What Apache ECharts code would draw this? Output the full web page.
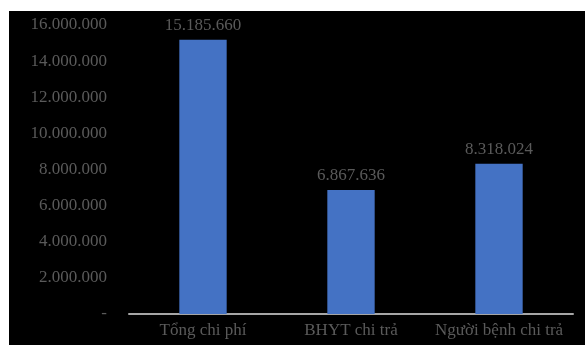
<!DOCTYPE html>
<html>
<head>
<meta charset="utf-8">
<script src="https://cdn.jsdelivr.net/npm/echarts@6/dist/echarts.min.js"></script>
<style>
  html, body { margin: 0; padding: 0; background: #ffffff; }
  #chart {
    position: absolute;
    left: 9px;
    top: 11px;
    width: 576px;
    height: 334px;
    background: #000000;
  }
</style>
</head>
<body>
<div id="chart"></div>
<script>
const categories = ['Tổng chi phí', 'BHYT chi trả', 'Người bệnh chi trả']
const costValues = [15185660, 6867636, 8318024]

const textColor = '#5a5a5a'
const serif = '"Liberation Serif", "Times New Roman", serif'

// vietnamese style thousands: 15.185.660, zero shown as "-"
function fmt(v) {
  if (v === 0) return '-'
  return String(Math.round(v)).replace(/\B(?=(\d{3})+(?!\d))/g, '.')
}

const chart = echarts.init(document.getElementById('chart'))

chart.setOption({
  backgroundColor: '#000000',
  animation: false,
  grid: {
    left: 120,
    right: 12,
    top: 14,
    bottom: 31
  },
  xAxis: {
    type: 'category',
    data: categories,
    axisLine: { lineStyle: { color: '#a6a6a6', width: 2 } },
    axisTick: { show: false },
    axisLabel: {
      interval: 0,
      hideOverlap: false,
      color: textColor,
      fontFamily: serif,
      fontSize: 17,
      margin: 8
    }
  },
  yAxis: {
    type: 'value',
    min: 0,
    max: 16000000,
    interval: 2000000,
    axisLine: { show: false },
    axisTick: { show: false },
    splitLine: { show: false },
    axisLabel: {
      color: textColor,
      fontFamily: serif,
      fontSize: 17,
      margin: 22,
      formatter: fmt
    }
  },
  series: [{
    type: 'bar',
    data: costValues,
    barWidth: '32%',
    itemStyle: { color: '#4472c4' },
    label: {
      show: true,
      position: 'top',
      distance: 6,
      color: textColor,
      fontFamily: serif,
      fontSize: 17,
      formatter: p => fmt(p.value)
    }
  }]
})
</script>
</body>
</html>
